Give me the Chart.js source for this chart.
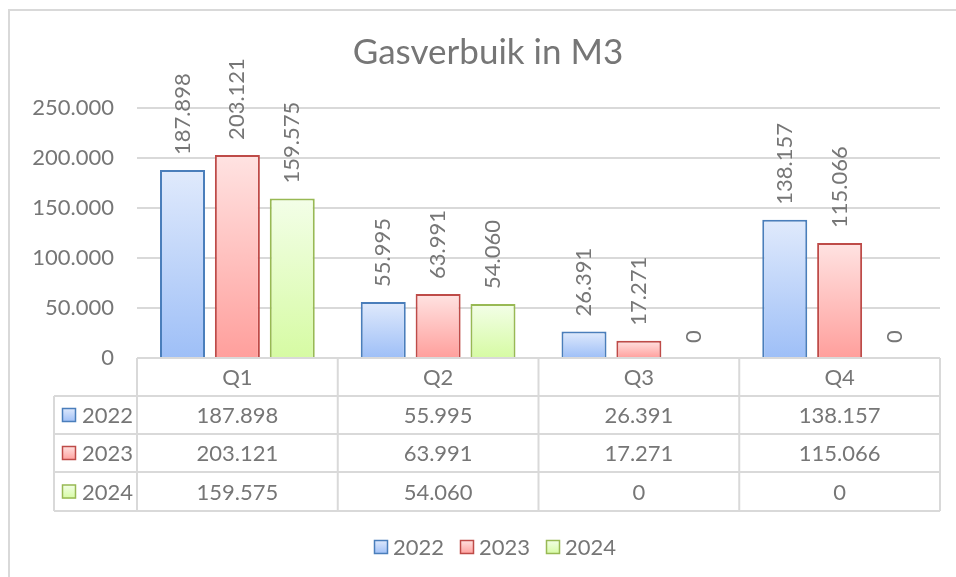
<!DOCTYPE html>
<html>
<head>
<meta charset="utf-8">
<script src="https://cdn.jsdelivr.net/npm/chart.js@4"></script>
<style>
  body { margin: 0; background: #fff; }
  canvas { display: block; }
</style>
</head>
<body>
<canvas id="gas" width="956" height="577"></canvas>
<script>
const quarters = ['Q1', 'Q2', 'Q3', 'Q4'];
const years = ['2022', '2023', '2024'];
const values2022 = [187898, 55995, 26391, 138157];
const values2023 = [203121, 63991, 17271, 115066];
const values2024 = [159575, 54060, 0, 0];
const chartTitle = 'Gasverbuik in M3';

const textColor = '#767676';
const lineColor = '#d9d9d9';
const fontFamily = 'Lato, "Open Sans", sans-serif';

// light top -> darker bottom, like the Excel preset fill
const styles = [
    { top: '#e0eafc', bottom: '#9ebff7', border: '#4a7ebb' },
    { top: '#ffe3e2', bottom: '#ff9f9c', border: '#be4b48' },
    { top: '#f3fee8', bottom: '#d6fba3', border: '#98b954' }
];

function fmt(v) {
    return String(Math.round(v)).replace(/\B(?=(\d{3})+(?!\d))/g, '.');
}

function barFill(i) {
    return function (ctx) {
        const chart = ctx.chart;
        if (!chart.chartArea || ctx.raw === undefined) return styles[i].top;
        const y = chart.scales.y;
        const top = y.getPixelForValue(ctx.raw);
        const bottom = y.getPixelForValue(0);
        if (bottom - top < 1) return styles[i].top;
        const g = chart.ctx.createLinearGradient(0, top, 0, bottom);
        g.addColorStop(0, styles[i].top);
        g.addColorStop(1, styles[i].bottom);
        return g;
    };
}

function legendKey(ctx, x, y, i) {
    const g = ctx.createLinearGradient(0, y, 0, y + 14);
    g.addColorStop(0, styles[i].top);
    g.addColorStop(1, styles[i].bottom);
    ctx.fillStyle = g;
    ctx.fillRect(x, y, 14, 14);
    ctx.strokeStyle = styles[i].border;
    ctx.lineWidth = 1.5;
    ctx.strokeRect(x + 0.5, y + 0.5, 13, 13);
}

const seriesValues = [values2022, values2023, values2024];

const extras = {
    id: 'extras',
    afterDatasetsDraw(chart) {
        const ctx = chart.ctx;
        ctx.save();
        ctx.fillStyle = textColor;
        ctx.font = '22px ' + fontFamily;
        ctx.textAlign = 'left';
        ctx.textBaseline = 'middle';
        chart.data.datasets.forEach((ds, i) => {
            chart.getDatasetMeta(i).data.forEach((bar, j) => {
                ctx.save();
                ctx.translate(bar.x, bar.y - 15);
                ctx.rotate(-Math.PI / 2);
                ctx.fillText(fmt(ds.data[j]), 0, 0);
                ctx.restore();
            });
        });
        ctx.restore();
    },
    afterDraw(chart) {
        const ctx = chart.ctx;
        const x = chart.scales.x;
        const area = chart.chartArea;
        ctx.save();

        // outer chart border
        ctx.strokeStyle = lineColor;
        ctx.lineWidth = 2;
        ctx.beginPath();
        ctx.moveTo(9, 600);
        ctx.lineTo(9, 10);
        ctx.lineTo(960, 10);
        ctx.stroke();

        // title
        ctx.fillStyle = textColor;
        ctx.font = '35px ' + fontFamily;
        ctx.textAlign = 'center';
        ctx.textBaseline = 'middle';
        ctx.fillText(chartTitle, 488, 53);

        // data table
        const colW = (area.right - area.left) / quarters.length;
        const bounds = [];
        for (let k = 0; k <= quarters.length; k++) bounds.push(area.left + colW * k);
        const rowTops = [area.bottom, 396, 434, 472, 511];
        const leftEdge = 54;

        ctx.strokeStyle = lineColor;
        ctx.lineWidth = 2;
        ctx.beginPath();
        bounds.forEach(bx => { ctx.moveTo(bx, area.bottom); ctx.lineTo(bx, rowTops[4]); });
        ctx.moveTo(leftEdge, rowTops[1]); ctx.lineTo(leftEdge, rowTops[4]);
        for (let r = 1; r < rowTops.length; r++) {
            ctx.moveTo(leftEdge, rowTops[r]); ctx.lineTo(area.right, rowTops[r]);
        }
        ctx.stroke();

        ctx.font = '22px ' + fontFamily;
        ctx.fillStyle = textColor;
        ctx.textAlign = 'center';
        quarters.forEach((q, k) => {
            ctx.fillText(q, x.getPixelForValue(k), (rowTops[0] + rowTops[1]) / 2 + 1);
        });
        seriesValues.forEach((vals, i) => {
            const cy = (rowTops[i + 1] + rowTops[i + 2]) / 2 + 1;
            vals.forEach((v, k) => {
                ctx.fillText(fmt(v), x.getPixelForValue(k), cy);
            });
            legendKey(ctx, 62, cy - 8, i);
            ctx.fillStyle = textColor;
            ctx.textAlign = 'left';
            ctx.fillText(years[i], 82, cy);
            ctx.textAlign = 'center';
        });

        // legend
        const legendX = [374, 460, 546];
        ctx.textAlign = 'left';
        years.forEach((yr, i) => {
            legendKey(ctx, legendX[i], 540, i);
            ctx.fillStyle = textColor;
            ctx.fillText(yr, legendX[i] + 19, 548);
        });
        ctx.restore();
    }
};

const config = {
    type: 'bar',
    data: {
        labels: quarters,
        datasets: years.map((yr, i) => ({
            label: yr,
            data: seriesValues[i],
            backgroundColor: barFill(i),
            borderColor: styles[i].border,
            borderWidth: 2,
            categoryPercentage: 0.82,
            barPercentage: 0.82
        }))
    },
    options: {
        responsive: false,
        animation: false,
        events: [],
        layout: { padding: { top: 108, right: 16, bottom: 219, left: 0 } },
        plugins: {
            legend: { display: false },
            title: { display: false },
            tooltip: { enabled: false }
        },
        scales: {
            x: { display: false },
            y: {
                min: 0,
                max: 250000,
                afterFit(scale) { scale.width = 137; },
                border: { display: false },
                grid: { color: lineColor, lineWidth: 2, drawTicks: false },
                ticks: {
                    stepSize: 50000,
                    padding: 23,
                    color: textColor,
                    font: { family: fontFamily, size: 22 },
                    callback: v => fmt(v)
                }
            }
        }
    },
    plugins: [extras]
};

new Chart(document.getElementById('gas'), config);
</script>
</body>
</html>
